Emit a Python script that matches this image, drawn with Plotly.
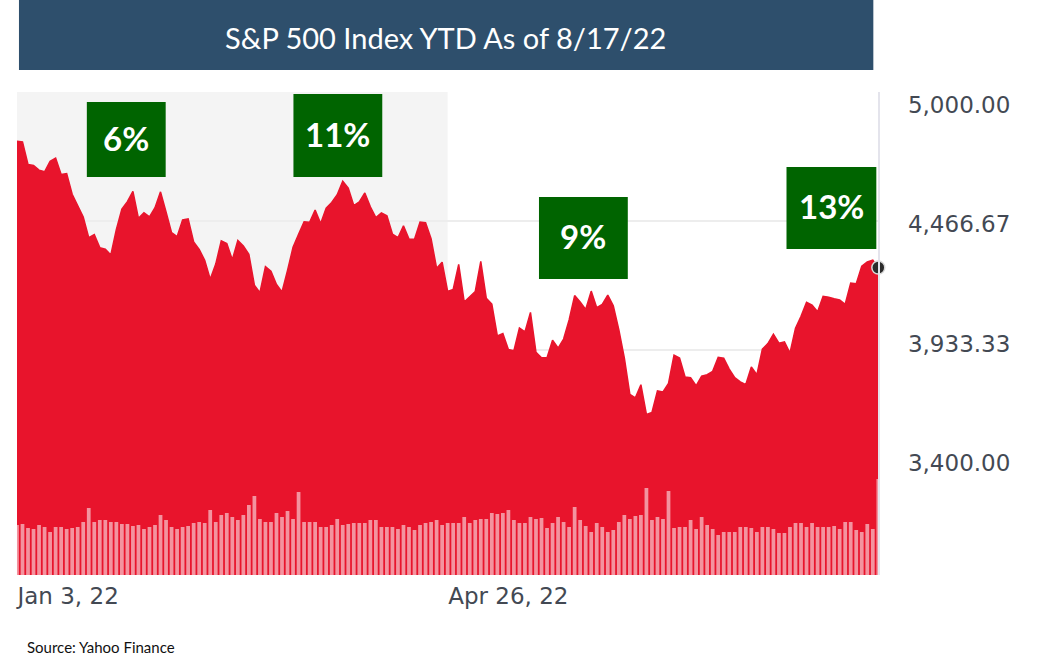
import pandas as pd
import plotly.graph_objects as go

# ---------------- data ----------------
holidays = ["2022-01-17", "2022-02-21", "2022-04-15", "2022-05-30", "2022-06-20", "2022-07-04"]
dates = [d.strftime("%Y-%m-%d") for d in pd.bdate_range("2022-01-03", "2022-08-17", freq="C", holidays=holidays)]

close_jan = [4796.56, 4793.54, 4700.58, 4696.05, 4677.03, 4670.29, 4713.07, 4726.35, 4659.03, 4662.85,
             4577.11, 4532.76, 4482.73, 4397.94, 4410.13, 4356.45, 4349.93, 4326.51, 4431.85, 4515.55]
close_feb = [4546.54, 4589.38, 4477.44, 4500.53, 4483.87, 4521.54, 4587.18, 4504.08, 4418.64, 4401.67,
             4471.07, 4475.01, 4380.26, 4348.87, 4304.76, 4225.50, 4288.70, 4384.65, 4373.94]
close_mar = [4306.26, 4386.54, 4363.49, 4328.87, 4201.09, 4170.70, 4277.88, 4259.52, 4204.31, 4173.11,
             4262.45, 4357.86, 4411.67, 4463.12, 4461.18, 4511.61, 4456.24, 4520.16, 4543.06, 4575.52,
             4631.60, 4602.45, 4530.41]
close_apr = [4545.86, 4582.64, 4525.12, 4481.15, 4500.21, 4488.28, 4412.53, 4397.45, 4446.59, 4392.59,
             4391.69, 4462.21, 4459.45, 4393.66, 4271.78, 4296.12, 4175.20, 4183.96, 4287.50, 4131.93]
close_may = [4155.38, 4175.48, 4300.17, 4146.87, 4123.34, 3991.24, 4001.05, 3935.18, 3930.08, 4023.89,
             4008.01, 4088.85, 3923.68, 3900.79, 3901.36, 3973.75, 3941.48, 3978.73, 4057.84, 4158.24,
             4132.15]
close_jun = [4101.23, 4176.82, 4108.54, 4121.43, 4160.68, 4115.77, 4017.82, 3900.86, 3749.63, 3735.48,
             3789.99, 3666.77, 3674.84, 3764.79, 3759.89, 3795.73, 3911.74, 3900.11, 3821.55, 3818.83,
             3785.38]
close_jul = [3825.33, 3831.39, 3845.08, 3902.62, 3899.38, 3854.43, 3818.80, 3801.78, 3790.38, 3863.16,
             3830.85, 3936.69, 3959.90, 3998.95, 3961.63, 3966.84, 3921.05, 4023.61, 4072.43, 4130.29]
close_aug = [4118.63, 4091.19, 4155.17, 4151.94, 4145.19, 4140.06, 4122.47, 4210.24, 4207.27, 4280.15,
             4297.14, 4305.20, 4274.04]
close = close_jan + close_feb + close_mar + close_apr + close_may + close_jun + close_jul + close_aug

# volume, billions of shares
volume_h1 = [5.0, 5.1, 4.7, 4.6, 5.0, 4.8, 4.3, 4.8, 4.8, 4.6,
             4.7, 4.8, 5.3, 6.7, 5.3, 5.5, 5.5, 5.3, 5.3, 5.1,
             5.1, 4.9, 5.0, 4.6, 4.8, 5.0, 6.0, 5.5, 4.8, 4.6,
             4.8, 4.9, 5.2, 5.3, 5.2, 6.5, 5.3, 6.0, 6.2, 5.8,
             5.5, 6.0, 7.0, 7.9, 5.6, 5.3, 5.3, 6.2, 5.8, 6.4,
             5.6, 8.3, 5.3, 5.3, 5.3, 4.8, 4.8, 5.0, 5.6, 5.0,
             5.1, 5.2, 5.2, 5.2, 5.5, 5.5, 4.8, 4.8, 4.8, 4.6,
             5.0, 4.8, 4.5, 5.0, 5.2, 5.3, 5.5, 5.0]
volume_h2 = [5.2, 5.2, 5.2, 5.8, 5.2, 5.5, 5.6, 5.6, 6.2, 6.1,
             6.2, 6.5, 5.5, 5.2, 5.2, 5.8, 5.6, 5.7, 4.7, 5.2,
             5.8, 5.3, 4.8, 6.8, 5.5, 4.9, 4.3, 5.2, 4.8, 4.3,
             4.5, 5.3, 6.0, 5.6, 5.9, 6.0, 8.7, 5.5, 5.8, 5.6,
             8.4, 4.7, 4.8, 4.8, 5.5, 4.6, 5.8, 5.0, 4.6, 4.0,
             4.3, 4.3, 4.3, 4.8, 4.8, 4.7, 4.3, 4.8, 4.8, 4.6,
             4.2, 4.2, 4.8, 5.2, 5.2, 4.8, 5.2, 4.8, 4.8, 4.8,
             4.9, 4.6, 5.3, 5.3, 4.5, 4.3, 5.1, 4.6, 9.6]
volume = volume_h1 + volume_h2

assert len(dates) == len(close) == len(volume) == 157, (len(dates), len(close), len(volume))

y_ticks = [3400.00, 3933.33, 4466.67, 5000.00]
y_ticktext = ["3,400.00", "3,933.33", "4,466.67", "5,000.00"]
x_ticks = ["2022-01-03", "2022-04-26"]
x_ticktext = ["Jan 3, 22", "Apr 26, 22"]

labels = ["6%", "11%", "9%", "13%"]
title_text = "S&P 500 Index YTD As of 8/17/22"
source_text = "Source: Yahoo Finance"

# ---------------- layout geometry (pixels) ----------------
W, H = 1048, 671
PX0, PX1 = 15, 878        # plot left / right
PT, PB = 92, 575          # plot top / bottom
RED = "#E8142C"


def fx(px):
    return px / W


def fy(py):
    return 1 - py / H


ydom = [fy(PB), fy(PT)]

fig = go.Figure()

fig.add_trace(go.Scatter(
    x=dates, y=close, mode="lines", fill="tozeroy",
    line=dict(color=RED, width=1.5), fillcolor=RED,
    hoverinfo="skip", showlegend=False, yaxis="y"))

fig.add_trace(go.Bar(
    x=dates, y=volume, marker=dict(color="#F3939F", line=dict(width=0)),
    hoverinfo="skip", showlegend=False, yaxis="y2"))

fig.add_trace(go.Scatter(
    x=[dates[-1]], y=[close[-1]], mode="markers",
    marker=dict(color="#2A2A2A", size=13, line=dict(color="#D8D8D8", width=1.5)),
    cliponaxis=False, hoverinfo="skip", showlegend=False, yaxis="y"))

# invisible carrier trace for the tick-label axis
fig.add_trace(go.Scatter(
    x=dates, y=close, mode="lines", line=dict(width=0, color="rgba(0,0,0,0)"),
    hoverinfo="skip", showlegend=False, yaxis="y3"))

shapes = []
# grey alternating band
shapes.append(dict(type="rect", xref="x", yref="paper", x0=0, x1=dates.index("2022-04-26"),
                   y0=fy(PB), y1=fy(PT), fillcolor="#F4F4F4", line=dict(width=0), layer="below"))
# title box
shapes.append(dict(type="rect", xref="paper", yref="paper", x0=fx(17), x1=fx(873),
                   y0=fy(70), y1=fy(0), fillcolor="#2E4F6C", line=dict(width=0)))
# green label boxes
boxes = [(85, 164, 102, 177), (292, 381, 94, 177), (538, 627, 197, 279), (786, 876, 167, 249)]
for (x0, x1, y0, y1) in boxes:
    shapes.append(dict(type="rect", xref="paper", yref="paper", x0=fx(x0), x1=fx(x1),
                       y0=fy(y1), y1=fy(y0), fillcolor="#006400", line=dict(width=0)))

annotations = []
for (x0, x1, y0, y1), t in zip(boxes, labels):
    annotations.append(dict(text="<b>" + t + "</b>", xref="paper", yref="paper", x=fx((x0 + x1) / 2),
                            y=fy((y0 + y1) / 2 - 2), xanchor="center", yanchor="middle",
                            showarrow=False, font=dict(family="Lato", size=33, color="white")))
annotations.append(dict(text=title_text, xref="paper", yref="paper", x=fx(444), y=fy(37),
                        xanchor="center", yanchor="middle", showarrow=False,
                        font=dict(family="Lato", size=29, color="white")))
annotations.append(dict(text=source_text, xref="paper", yref="paper", x=fx(23), y=fy(647),
                        xanchor="left", yanchor="middle", showarrow=False,
                        font=dict(family="Lato", size=15, color="#111111")))

axis_font = dict(family="DejaVu Sans", size=23, color="#434953")

# price axis range so that 5000 sits on the plot top and 3933.33 at y=350 px
ppp = (350 - PT) / (5000 - 3933.33)
price_range = [5000 - (PB - PT) / ppp, 5000]
# tick-label axis: labels centred at 105 px (5000) and 463 px (3400)
lpp = (463 - 105) / (5000 - 3400)
label_range = [3400 - (PB - 463) / lpp, 5000 + (105 - PT) / lpp]

fig.update_layout(
    width=W, height=H,
    margin=dict(l=0, r=0, t=0, b=0),
    paper_bgcolor="white", plot_bgcolor="white",
    bargap=0.32,
    shapes=shapes, annotations=annotations,
    xaxis=dict(domain=[fx(PX0), fx(PX1)], type="category", range=[0, len(dates) - 1],
               tickvals=x_ticks, ticktext=x_ticktext, ticklabelposition="outside right",
               ticks="outside", ticklen=8, tickcolor="rgba(0,0,0,0)",
               showgrid=False, zeroline=False, showline=False, tickfont=axis_font),
    yaxis=dict(domain=ydom, range=price_range, side="right", tickvals=y_ticks,
               showticklabels=False, showgrid=True, gridcolor="#EDEDED", gridwidth=2,
               zeroline=False, showline=True, linecolor="#E4E4EC", linewidth=2),
    yaxis2=dict(domain=ydom, range=[0, (PB - PT) / 10], overlaying="y", visible=False),
    yaxis3=dict(domain=ydom, range=label_range, overlaying="y", side="right",
                tickvals=y_ticks, ticktext=y_ticktext, showgrid=False, zeroline=False,
                ticks="outside", ticklen=24, tickcolor="rgba(0,0,0,0)", tickfont=axis_font),
)

fig.write_html("out.html")
